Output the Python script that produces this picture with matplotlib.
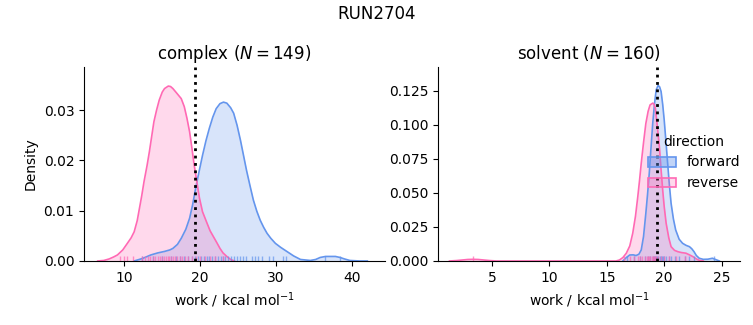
import matplotlib
matplotlib.use('Agg')
import matplotlib.pyplot as plt
import matplotlib.colors as mcolors
import seaborn as sns
from matplotlib.patches import Patch

# KDE curves (work in kcal/mol, density)
complex_fwd_x = [11.3, 12.4, 13.5, 14.4, 15.3, 16.0, 16.4, 17.0, 17.5, 18.1, 18.6, 19.0, 19.4,
                 19.85, 20.3, 20.75, 21.2, 21.65, 22.1, 22.6, 23.06, 23.5, 24.0, 24.4, 24.85,
                 25.3, 25.7, 26.1, 26.55, 27.0, 27.45, 27.9, 28.35, 28.8, 29.3, 29.9, 30.6,
                 31.4, 32.3, 33.2, 34.5, 35.2, 35.8, 36.5, 37.1, 37.8, 38.4, 39.0, 39.7, 41.0, 42.0]
complex_fwd_y = [0.0, 0.0005, 0.0012, 0.0016, 0.0019, 0.0022, 0.0025, 0.0033, 0.0045, 0.0063,
                 0.0085, 0.0112, 0.0145, 0.0178, 0.021, 0.0239, 0.0264, 0.0286, 0.0303, 0.0313,
                 0.0316, 0.0314, 0.0305, 0.0294, 0.027, 0.024, 0.021, 0.018, 0.015, 0.0121,
                 0.0099, 0.0081, 0.0067, 0.0055, 0.0045, 0.0035, 0.0027, 0.0019, 0.001, 0.0003,
                 0.0001, 0.0003, 0.0007, 0.0009, 0.0009, 0.0009, 0.0007, 0.0004, 0.0001, 0.0, 0.0]
complex_rev_x = [6.5, 7.3, 8.0, 8.6, 9.1, 9.8, 10.4, 10.9, 11.3, 11.7, 12.0, 12.3, 12.6, 13.0,
                 13.3, 13.6, 13.9, 14.25, 14.6, 15.0, 15.3, 15.8, 16.1, 16.4, 16.9, 17.5, 17.9,
                 18.25, 18.6, 18.9, 19.2, 19.55, 19.9, 20.3, 20.9, 21.3, 21.75, 22.2, 22.6,
                 23.0, 23.5, 24.0, 24.5]
complex_rev_y = [0.0, 0.0001, 0.0004, 0.0008, 0.0012, 0.0022, 0.0035, 0.0046, 0.0058, 0.008,
                 0.0105, 0.013, 0.0158, 0.019, 0.0217, 0.0247, 0.0277, 0.030, 0.032, 0.0336,
                 0.0343, 0.0348, 0.0347, 0.0343, 0.0334, 0.0323, 0.0307, 0.0284, 0.0257, 0.0225,
                 0.0191, 0.0158, 0.0125, 0.0098, 0.0075, 0.006, 0.0048, 0.0036, 0.0025, 0.0016,
                 0.0009, 0.0003, 0.0]

solvent_fwd_x = [16.4, 16.7, 17.0, 17.3, 17.55, 17.8, 18.0, 18.2, 18.4, 18.55, 18.7, 18.85,
                 19.0, 19.15, 19.3, 19.47, 19.6, 19.73, 19.87, 20.0, 20.15, 20.3, 20.45, 20.6,
                 20.8, 21.0, 21.3, 21.6, 21.9, 22.2, 22.4, 22.6, 22.8, 23.05, 23.4, 23.8, 24.2,
                 24.5, 24.8]
solvent_fwd_y = [0.0, 0.0025, 0.0044, 0.0045, 0.004, 0.005, 0.0081, 0.018, 0.035, 0.049,
                 0.0645, 0.083, 0.101, 0.115, 0.1257, 0.129, 0.128, 0.1245, 0.115, 0.1037,
                 0.088, 0.0718, 0.056, 0.0424, 0.031, 0.0228, 0.016, 0.013, 0.0115, 0.0105,
                 0.009, 0.0068, 0.004, 0.002, 0.0012, 0.0013, 0.002, 0.001, 0.0]
solvent_rev_x = [1.3, 1.9, 2.4, 2.9, 3.35, 3.8, 4.3, 4.8, 5.4, 15.8, 16.1, 16.4, 16.7, 17.0,
                 17.26, 17.5, 17.7, 17.85, 18.0, 18.2, 18.4, 18.6, 18.77, 19.0, 19.1, 19.23,
                 19.4, 19.58, 19.72, 19.87, 20.0, 20.17, 20.4, 20.6, 20.9, 21.2, 21.5, 21.9,
                 22.2, 22.5, 22.8, 23.05, 23.4]
solvent_rev_y = [0.0, 0.0003, 0.0007, 0.0011, 0.0012, 0.0011, 0.0007, 0.0003, 0.0, 0.0,
                 0.0007, 0.0025, 0.0057, 0.011, 0.0204, 0.033, 0.0473, 0.059, 0.0718, 0.087,
                 0.101, 0.110, 0.1147, 0.116, 0.1155, 0.1123, 0.099, 0.084, 0.068, 0.052, 0.04,
                 0.0277, 0.017, 0.0105, 0.0078, 0.0068, 0.0062, 0.0057, 0.0045, 0.0032, 0.0015,
                 0.0005, 0.0]

# rug positions (approximate, read from the tick marks at the bottom)
complex_fwd_rug = [12.3, 13.8, 15.0, 16.1, 16.8, 17.3, 17.9, 18.4, 18.9, 19.3, 19.7, 20.1, 20.5,
                   20.9, 21.2, 21.6, 22.0, 22.3, 22.7, 23.0, 23.3, 23.6, 24.0, 24.4, 24.8, 25.2,
                   25.6, 26.0, 26.8, 27.2, 27.6, 28.1, 29.1, 29.6, 30.9, 31.3, 36.4, 38.4]
complex_rev_rug = [9.5, 9.9, 10.4, 11.2, 12.3, 12.7, 13.1, 13.4, 13.8, 14.1, 14.4, 14.7, 15.0,
                   15.2, 15.5, 15.7, 15.9, 16.2, 16.4, 16.7, 17.0, 17.3, 17.6, 18.0, 18.4, 18.9,
                   19.4, 20.0, 20.6, 21.3, 22.0, 23.0]
solvent_fwd_rug = [16.8, 17.4, 17.9, 18.3, 18.6, 18.8, 19.0, 19.1, 19.2, 19.3, 19.4, 19.5, 19.6,
                   19.7, 19.8, 19.9, 20.0, 20.2, 20.4, 20.6, 20.9, 21.3, 21.8, 22.2, 22.6, 24.3]
solvent_rev_rug = [3.35, 16.5, 17.0, 17.4, 17.7, 17.9, 18.1, 18.3, 18.5, 18.6, 18.7, 18.8, 18.9,
                   19.0, 19.1, 19.2, 19.3, 19.5, 19.7, 20.0, 20.4, 21.0, 21.8]

ref_work = 19.37  # dotted reference line
fwd_color = 'cornflowerblue'
rev_color = 'hotpink'

fig = plt.figure(figsize=(7.53, 3.25), dpi=100)
ax1 = fig.add_axes([0.1116, 0.197, 0.3994, 0.597])
ax2 = fig.add_axes([0.5817, 0.197, 0.401, 0.597])

panels = [
    (ax1, 'complex ($N=149$)', complex_fwd_x, complex_fwd_y, complex_rev_x, complex_rev_y,
     complex_fwd_rug, complex_rev_rug, (4.7, 44.3), (0, 0.0386)),
    (ax2, 'solvent ($N=160$)', solvent_fwd_x, solvent_fwd_y, solvent_rev_x, solvent_rev_y,
     solvent_fwd_rug, solvent_rev_rug, (0.3, 26.6), (0, 0.1426)),
]

for ax, title, fx, fy, rx, ry, frug, rrug, xlim, ylim in panels:
    for x, y, c in [(fx, fy, fwd_color), (rx, ry, rev_color)]:
        ax.fill_between(x, y, color=c, alpha=0.25, linewidth=0)
        ax.plot(x, y, color=c, lw=1.2)
    sns.rugplot(x=frug, ax=ax, color=fwd_color, height=0.025, alpha=0.7, lw=1)
    sns.rugplot(x=rrug, ax=ax, color=rev_color, height=0.025, alpha=0.7, lw=1)
    ax.axvline(ref_work, color='k', ls=':', lw=2)
    ax.set_xlim(*xlim)
    ax.set_ylim(*ylim)
    ax.set_title(title, fontsize=12)
    ax.set_xlabel('work / kcal mol$^{-1}$')
    ax.spines['top'].set_visible(False)
    ax.spines['right'].set_visible(False)

ax1.set_ylabel('Density')
ax1.set_xticks([10, 20, 30, 40])
ax2.set_xticks([5, 10, 15, 20, 25])

# legend patches: translucent face, solid edge
handles = [Patch(facecolor=mcolors.to_rgba(fwd_color, 0.4), edgecolor=fwd_color, lw=1.2),
           Patch(facecolor=mcolors.to_rgba(rev_color, 0.25), edgecolor=rev_color, lw=1.2)]
fig.legend(handles, ['forward', 'reverse'], title='direction', frameon=False,
           loc='center right', bbox_to_anchor=(1.0, 0.5))

fig.suptitle('RUN2704', fontsize=12, y=0.985)
fig.savefig('out.png', dpi=100)
